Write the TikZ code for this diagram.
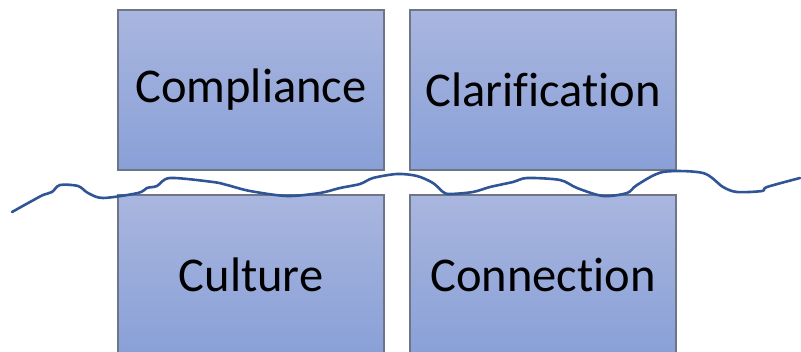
\documentclass[tikz,border=0pt]{standalone}
\usepackage{fontspec}
\setmainfont{Carlito}[Ligatures={NoCommon}]
\usepackage{tikz}

\definecolor{boxtop}{RGB}{169,182,223}
\definecolor{boxbottom}{RGB}{137,160,215}
\definecolor{boxedge}{RGB}{110,117,135}
\definecolor{wave}{RGB}{47,85,151}

\begin{document}
\begin{tikzpicture}[x=1pt, y=-1pt,
        cbox/.style={draw=boxedge, line width=1.2pt, top color=boxtop, bottom color=boxbottom,
            minimum width=266pt, minimum height=160pt, inner sep=0pt,
            font=\fontsize{48.5}{52}\selectfont}]
            \useasboundingbox (0, 0) rectangle (801, 352);
            \begin{scope}
                \clip (0, 0) rectangle (801, 352);
                \node[cbox] (compliance) at (251, 90) {Compliance};
                \node[cbox] (clarification) at (543, 90) {Clarification};
                \node[cbox] (culture) at (251, 275) {Culture};
                \node[cbox] (connection) at (543, 275) {Connection};
            \end{scope}
            % hand drawn line between the two rows
            \draw[wave, line width=2.6pt, line cap=round, line join=round] plot[smooth, tension=0.5] coordinates {
                (12, 212) (30, 202) (43, 195) (52, 192) (60, 185) (78, 186) (88, 193) (103, 198)
                (138, 193) (147, 188) (157, 186) (170, 178) (213, 182) (227, 185) (250, 191)
                (287, 196) (320, 193) (340, 188) (360, 184) (373, 178) (397, 174) (417, 176)
                (433, 183) (443, 192) (450, 194) (473, 192) (490, 187) (513, 182) (527, 178)
                (560, 180) (577, 188) (603, 196) (627, 193) (637, 185) (663, 172) (703, 173)
                (723, 187) (737, 192) (762, 191) (767, 187) (800, 178)};
        \end{tikzpicture}
\end{document}
